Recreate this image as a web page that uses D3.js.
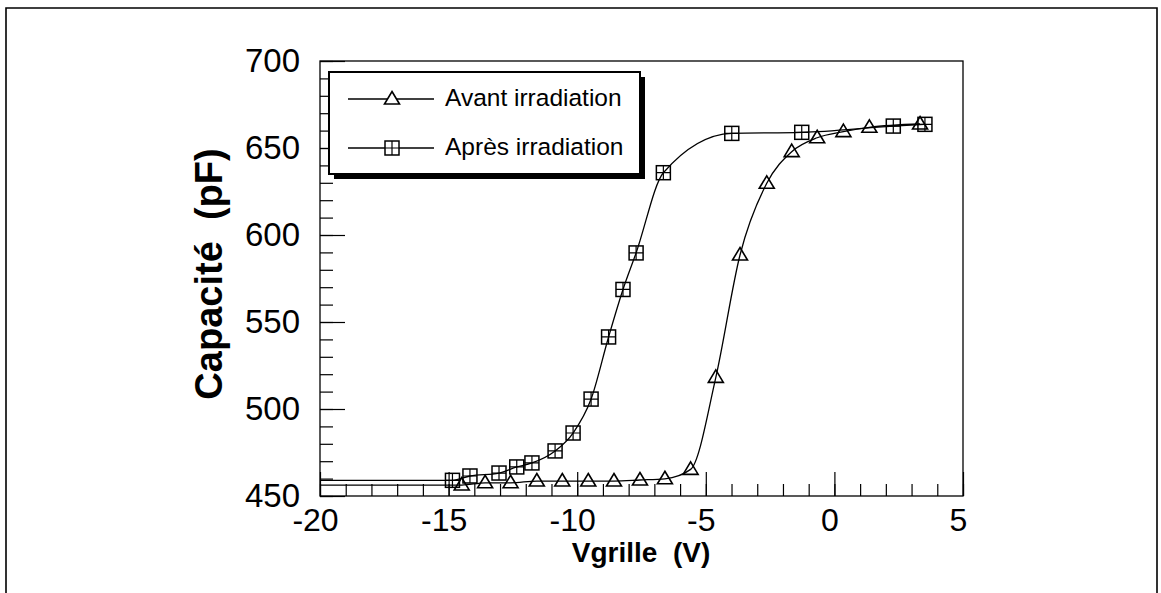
<!DOCTYPE html>
<html><head><meta charset="utf-8">
<script src="https://cdn.jsdelivr.net/npm/d3@7"></script>
<style>
body{margin:0;background:#fff}
svg{display:block}
text{font-family:"Liberation Sans",Arial,Helvetica,sans-serif;fill:#000}
</style>
</head><body>
<svg id="c" width="1161" height="593"></svg>
<script>
// ---- data ----
const avantV = [-14.49,-13.58,-12.59,-11.57,-10.58,-9.57,-8.57,-7.56,-6.59,-5.59,-4.61,-3.67,-2.63,-1.66,-0.67,0.35,1.36,3.33];
const avantC = [456.3,457.6,457.6,458.6,458.6,458.6,458.6,459.2,459.9,465.3,518.2,588.5,629.7,647.9,655.9,659.4,661.9,663.8];
const apresV = [-14.85,-14.17,-13.04,-12.35,-11.76,-10.86,-10.16,-9.46,-8.78,-8.22,-7.71,-6.65,-3.99,-1.27,2.29,3.52];
const apresC = [459.0,461.5,463.2,466.7,469.0,475.9,486.2,505.7,541.4,568.7,589.7,635.8,658.4,659.0,662.6,663.6];
const xTicks = [-20,-15,-10,-5,0,5];
const yTicks = [450,500,550,600,650,700];
const seriesNames = ["Avant irradiation","Après irradiation"];
const xTitle = "Vgrille  (V)";
const yTitle = "Capacité  (pF)";

// ---- layout ----
const svg = d3.select("#c");
const W = 1161, H = 593;
const P = {l:320, r:963, t:61, b:496};
const x = d3.scaleLinear().domain([xTicks[0], xTicks[xTicks.length-1]]).range([P.l, P.r]);
const y = d3.scaleLinear().domain([yTicks[0], yTicks[yTicks.length-1]]).range([P.b, P.t]);

// outer figure frame
svg.append("path")
  .attr("d", `M6,${H} V8 H1157 V${H}`)
  .attr("fill","none").attr("stroke","#000").attr("stroke-width",1.6);

// plot frame
svg.append("rect").attr("x",P.l).attr("y",P.t).attr("width",P.r-P.l).attr("height",P.b-P.t)
  .attr("fill","none").attr("stroke","#000").attr("stroke-width",1.3);

// x axis ticks (inward)
const xMinor = d3.range(xTicks[0], xTicks[xTicks.length-1]+0.001, 1);
svg.append("g").attr("transform",`translate(0,${P.b})`)
  .call(d3.axisBottom(x).tickValues(xMinor).tickSize(-12).tickFormat(""));
const gx = svg.append("g").attr("transform",`translate(0,${P.b})`)
  .call(d3.axisBottom(x).tickValues(xTicks).tickSize(-24).tickPadding(12).tickFormat(d3.format("d")));
gx.selectAll("text").attr("font-size",32).attr("dx",-5).text(d=>String(d));

// y axis ticks (inward)
const yMinor = d3.range(yTicks[0], yTicks[yTicks.length-1]+0.001, 10);
svg.append("g").attr("transform",`translate(${P.l},0)`)
  .call(d3.axisLeft(y).tickValues(yMinor).tickSize(-13).tickFormat(""));
const gy = svg.append("g").attr("transform",`translate(${P.l},0)`)
  .call(d3.axisLeft(y).tickValues(yTicks).tickSize(-25).tickPadding(20).tickFormat(d3.format("d")));
gy.selectAll("text").attr("font-size",33);

svg.selectAll(".domain").remove();
svg.selectAll(".tick line").attr("stroke","#000").attr("stroke-width",1.2);

// axis titles
svg.append("text").attr("x",641).attr("y",562).attr("text-anchor","middle")
  .attr("font-size",28).attr("font-weight","bold").style("white-space","pre").text(xTitle);
svg.append("text").attr("transform","translate(222,274) rotate(-90)").attr("text-anchor","middle")
  .attr("font-size",38).attr("font-weight","bold").style("white-space","pre").text(yTitle);

// ---- curves ----
const line = d3.line().x(d=>x(d[0])).y(d=>y(d[1])).curve(d3.curveMonotoneX);
const avant = avantV.map((v,i)=>[v,avantC[i]]);
const apres = apresV.map((v,i)=>[v,apresC[i]]);
[avant, apres].forEach(s=>{
  const pts = [[x.domain()[0], s[0][1]]].concat(s);
  svg.append("path").attr("d",line(pts)).attr("fill","none").attr("stroke","#000").attr("stroke-width",1.3);
});

const triPath = "M0,-7.5 L7.5,5 L-7.5,5 Z";
function sq(g){
  g.append("rect").attr("x",-7).attr("y",-7).attr("width",14).attr("height",14)
    .attr("fill","none").attr("stroke","#000").attr("stroke-width",1.5);
  g.append("path").attr("d","M0,-7V7M-7,0H7").attr("stroke","#000").attr("stroke-width",1.2);
}
svg.append("g").selectAll("path").data(avant).join("path")
  .attr("transform",d=>`translate(${x(d[0])},${y(d[1])})`)
  .attr("d",triPath).attr("fill","none").attr("stroke","#000").attr("stroke-width",1.6);
svg.append("g").selectAll("g").data(apres).join("g")
  .attr("transform",d=>`translate(${x(d[0])},${y(d[1])})`).each(function(){sq(d3.select(this));});

// ---- legend ----
const L = {x:329, y:72, w:311, h:102};
svg.append("rect").attr("x",L.x+5).attr("y",L.y+5).attr("width",L.w).attr("height",L.h).attr("fill","#000");
svg.append("rect").attr("x",L.x).attr("y",L.y).attr("width",L.w).attr("height",L.h)
  .attr("fill","#fff").attr("stroke","#000").attr("stroke-width",2);
const rows = [99,148];
seriesNames.forEach((name,i)=>{
  const ry = rows[i];
  svg.append("line").attr("x1",348).attr("x2",434).attr("y1",ry).attr("y2",ry)
    .attr("stroke","#000").attr("stroke-width",1.3);
  const g = svg.append("g").attr("transform",`translate(392,${ry})`);
  if(i===0) g.append("path").attr("d",triPath).attr("fill","#fff").attr("stroke","#000").attr("stroke-width",1.6);
  else { g.append("rect").attr("x",-7).attr("y",-7).attr("width",14).attr("height",14).attr("fill","#fff"); sq(g); }
  svg.append("text").attr("x",445).attr("y",ry+7).attr("font-size",24.5).text(name);
});
</script>
</body></html>
